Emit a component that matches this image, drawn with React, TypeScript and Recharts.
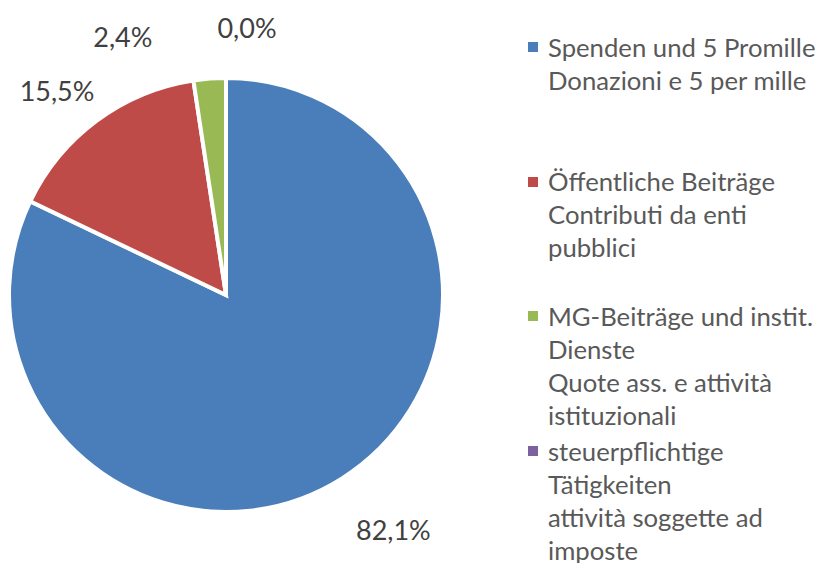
import React from "react";
import { PieChart, Pie, Cell, Legend } from "recharts";

const categories = [
  "Spenden und 5 Promille / Donazioni e 5 per mille",
  "Öffentliche Beiträge / Contributi da enti pubblici",
  "MG-Beiträge und instit. Dienste / Quote ass. e attività istituzionali",
  "steuerpflichtige Tätigkeiten / attività soggette ad imposte",
];
const values = [82.1, 15.5, 2.4, 0.0];
const percentLabels = ["82,1%", "15,5%", "2,4%", "0,0%"];
const legendLines = [
  ["Spenden und 5 Promille", "Donazioni e 5 per mille"],
  ["Öffentliche Beiträge", "Contributi da enti", "pubblici"],
  ["MG-Beiträge und instit.", "Dienste", "Quote ass. e attività", "istituzionali"],
  ["steuerpflichtige", "Tätigkeiten", "attività soggette ad", "imposte"],
];
const colors = ["#4A7EBB", "#BE4B48", "#98B954", "#7D60A0"];

// label nudges (layout only)
const labelNudge = [
  [25, 9],
  [-10, 10],
  [-83, 8],
  [21, -1],
];

const data = categories.map((c, i) => ({ name: c, value: values[i], idx: i }));

const FONT = "Lato, 'Open Sans', sans-serif";
const RAD = Math.PI / 180;
const LINE_H = 33;

const renderLabel = (props: any) => {
  const { cx, cy, outerRadius, midAngle, index } = props;
  const r = outerRadius + 50;
  const x = cx + r * Math.cos(-midAngle * RAD) + labelNudge[index][0];
  const y = cy + r * Math.sin(-midAngle * RAD) + labelNudge[index][1];
  return (
    <text
      key={"l" + index}
      x={x}
      y={y}
      textAnchor="middle"
      dominantBaseline="central"
      fill="#404040"
      fontSize={27}
      fontFamily={FONT}
    >
      {percentLabels[index]}
    </text>
  );
};

const renderLegend = () => (
  <div style={{ position: "relative", width: 291, height: 563, fontFamily: FONT }}>
    {legendLines.map((lines, i) => (
      <div
        key={i}
        style={{ position: "absolute", left: 0, top: 47 - LINE_H / 2 + i * 134.7 }}
      >
        <div
          style={{
            position: "absolute",
            left: 0,
            top: LINE_H / 2 - 5,
            width: 10,
            height: 10,
            background: colors[i],
          }}
        />
        <div style={{ marginLeft: 20, color: "#595959", fontSize: 25.7, lineHeight: LINE_H + "px", whiteSpace: "nowrap" }}>
          {lines.map((l, j) => (
            <div key={j}>{l}</div>
          ))}
        </div>
      </div>
    ))}
  </div>
);

export default function App() {
  return (
    <div style={{ position: "absolute", left: 0, top: 0, width: 819, height: 563, background: "#fff" }}>
      <PieChart width={819} height={563} margin={{ top: 0, right: 0, bottom: 0, left: 0 }}>
        <Pie
          data={data}
          dataKey="value"
          nameKey="name"
          cx={226}
          cy={295}
          outerRadius={217}
          startAngle={90}
          endAngle={-270}
          stroke="#ffffff"
          strokeWidth={4}
          label={renderLabel}
          labelLine={false}
          isAnimationActive={false}
        >
          {data.map((d, i) => (
            <Cell key={i} fill={colors[i]} />
          ))}
        </Pie>
        <Legend
          content={renderLegend}
          wrapperStyle={{ position: "absolute", left: 528, top: 0, width: 291, height: 563 }}
        />
      </PieChart>
    </div>
  );
}
